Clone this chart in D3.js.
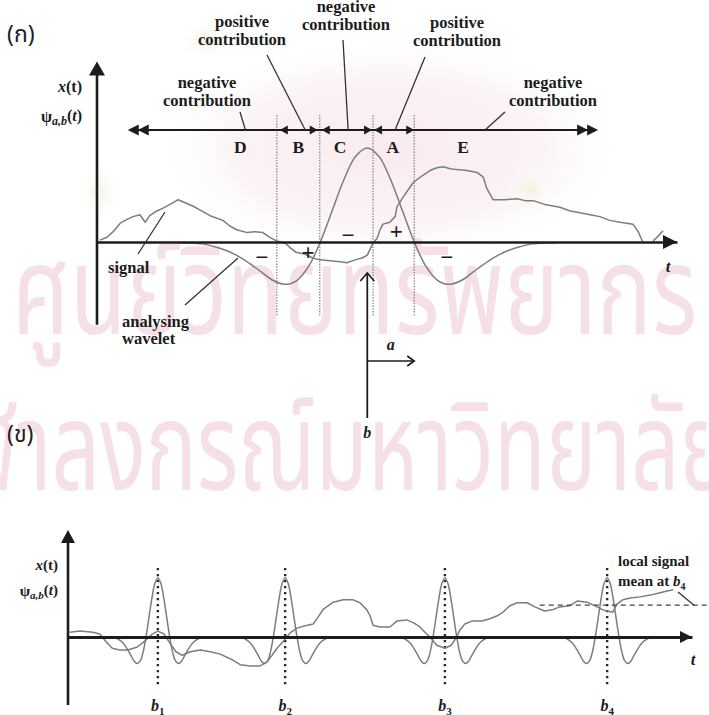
<!DOCTYPE html>
<html>
<head>
<meta charset="utf-8">
<script src="https://cdn.jsdelivr.net/npm/d3@7/dist/d3.min.js"></script>
<style>
  html, body { margin: 0; padding: 0; background: #fff; }
  svg { display: block; }
  .serif { font-family: "Liberation Serif", "Times New Roman", "DejaVu Serif", serif; font-weight: bold; fill: #1c1c1c; }
  .thai  { font-family: "Noto Sans Thai", "Noto Serif Thai", "Loma", "Garuda", "Waree", sans-serif; }
</style>
</head>
<body>
<svg id="fig" width="709" height="715"></svg>
<script>
// ---------------- Panel (ก): signal against one analysing wavelet ----------------
const sigTopT = [0.05,0.17,0.28,0.40,0.52,0.62,0.74,0.83,0.91,1.03,1.14,1.26,1.40,1.55,1.66,1.78,1.95,2.17,2.29,2.41,2.59,2.72,2.86,2.98,3.10,3.24,3.33,3.43,3.59,3.72,3.84,4.02,4.19,4.31,4.45,4.57,4.66,4.76,4.83,4.88,4.93,5.05,5.14,5.17,5.28,5.36,5.45,5.53,5.62,5.74,5.86,5.97,6.09,6.21,6.38,6.55,6.66,6.72,6.83,7.03,7.24,7.38,7.52,7.72,7.98,8.16,8.33,8.50,8.67,8.84,9.02,9.24,9.33,9.41];
const sigTopV = [0.02,0.05,0.11,0.20,0.24,0.27,0.29,0.21,0.28,0.33,0.36,0.40,0.45,0.41,0.38,0.34,0.28,0.23,0.17,0.13,0.10,0.11,0.10,0.05,0.01,-0.01,-0.06,-0.11,-0.13,-0.17,-0.19,-0.20,-0.21,-0.22,-0.19,-0.17,-0.14,-0.01,0.04,0.13,0.19,0.21,0.27,0.37,0.48,0.55,0.63,0.67,0.71,0.76,0.79,0.80,0.78,0.77,0.76,0.74,0.69,0.57,0.45,0.45,0.46,0.44,0.44,0.40,0.37,0.33,0.31,0.29,0.27,0.23,0.21,0.19,0.11,0.00];
const sigTailT = [9.59, 9.67, 9.76];
const sigTailV = [0.01, 0.06, 0.12];

// Mexican-hat profile: offsets (in units of the dilation a) and amplitudes
const hatU = [-4,-3.75,-3.5,-3.25,-3,-2.75,-2.5,-2.25,-2,-1.75,-1.5,-1.25,-1,-0.75,-0.5,-0.25,0,0.25,0.5,0.75,1,1.25,1.5,1.75,2,2.25,2.5,2.75,3,3.25,3.5,3.75,4];
const hatV = [-0.01,-0.01,-0.02,-0.05,-0.09,-0.15,-0.23,-0.32,-0.41,-0.45,-0.41,-0.26,0,0.33,0.66,0.91,1,0.91,0.66,0.33,0,-0.26,-0.41,-0.45,-0.41,-0.32,-0.23,-0.15,-0.09,-0.05,-0.02,-0.01,-0.01];

const waveCentreTop = 4.66;     // b
const waveDilationTop = 0.81;   // a
const zoneEdgesT = [3.10, 3.84, 4.76, 5.47];
const zoneNames = ["D", "B", "C", "A", "E"];
const zoneLabelT = [2.47, 3.47, 4.19, 5.10, 6.31];
const zoneLineStartT = 0.53, zoneLineEndT = 8.64;
const signText = ["\u2212", "+", "\u2212", "+", "\u2212"];
const signT = [2.84, 3.64, 4.33, 5.16, 6.03];
const signV = [-0.17, -0.11, 0.07, 0.11, -0.17];

const contribText = [
  ["negative", "contribution"],
  ["positive", "contribution"],
  ["negative", "contribution"],
  ["positive", "contribution"],
  ["negative", "contribution"]
];

// ---------------- Panel (ข): one wavelet slid along the signal ----------------
const sigBotT = [0.03,0.19,0.40,0.51,0.61,0.71,0.83,0.96,1.11,1.23,1.35,1.44,1.54,1.63,1.73,1.83,1.96,2.12,2.28,2.44,2.64,2.76,2.92,3.08,3.19,3.27,3.35,3.45,3.56,3.67,3.80,3.93,4.01,4.09,4.25,4.41,4.57,4.68,4.79,4.84,4.89,5.00,5.16,5.27,5.43,5.54,5.64,5.72,5.80,5.91,6.04,6.14,6.22,6.28,6.36,6.47,6.63,6.76,6.88,6.97,7.08,7.20,7.36,7.48,7.64,7.76,7.88,8.04,8.16,8.32,8.48,8.57,8.73,8.80,8.89,9.01,9.17,9.33,9.49,9.60,9.70];
const sigBotV = [0.08,0.10,0.08,0.05,-0.08,-0.19,-0.22,-0.22,-0.17,-0.07,0.05,0.10,0.05,-0.10,-0.25,-0.31,-0.25,-0.22,-0.25,-0.29,-0.39,-0.47,-0.49,-0.49,-0.42,-0.31,-0.19,-0.07,0.07,0.15,0.19,0.22,0.34,0.47,0.59,0.63,0.63,0.58,0.46,0.36,0.20,0.17,0.17,0.27,0.29,0.24,0.17,0.08,0.00,-0.14,-0.19,-0.14,-0.02,0.12,0.22,0.27,0.27,0.31,0.36,0.42,0.53,0.58,0.58,0.51,0.44,0.46,0.51,0.53,0.61,0.59,0.51,0.46,0.42,0.56,0.63,0.66,0.68,0.71,0.75,0.78,0.80];
const bCentres = [1.44, 3.48, 6.04, 8.64];
const bIndex = ["1", "2", "3", "4"];
const waveDilationBot = 0.19;
const localMeanV = 0.54;
const localMeanStartT = 7.56;

// ---------------- layout ----------------
const svg = d3.select("#fig");
const ink = "#1c1c1c", trace = "#7d7d7d";

const xTop = d3.scaleLinear().domain([0, 10]).range([97, 677]);
const yTop = d3.scaleLinear().domain([-1, 1]).range([336, 148]);
const xBot = d3.scaleLinear().domain([0, 10]).range([68, 692]);
const yBot = d3.scaleLinear().domain([-1, 1]).range([696, 578]);

// ---- faint library stamp behind the figure ----
const defs = svg.append("defs");
const grad = defs.append("radialGradient").attr("id", "stamp");
grad.append("stop").attr("offset", "0%").attr("stop-color", "#f8e8ec").attr("stop-opacity", 0.9);
grad.append("stop").attr("offset", "65%").attr("stop-color", "#faeef1").attr("stop-opacity", 0.7);
grad.append("stop").attr("offset", "100%").attr("stop-color", "#ffffff").attr("stop-opacity", 0);
const gradB = defs.append("radialGradient").attr("id", "stampBeige");
gradB.append("stop").attr("offset", "0%").attr("stop-color", "#f6f0de").attr("stop-opacity", 0.9);
gradB.append("stop").attr("offset", "100%").attr("stop-color", "#ffffff").attr("stop-opacity", 0);
svg.append("ellipse").attr("cx", 390).attr("cy", 150).attr("rx", 240).attr("ry", 115).attr("fill", "url(#stamp)");
svg.append("ellipse").attr("cx", 100).attr("cy", 192).attr("rx", 22).attr("ry", 30).attr("fill", "url(#stampBeige)");
svg.append("ellipse").attr("cx", 530).attr("cy", 190).attr("rx", 24).attr("ry", 32).attr("fill", "url(#stampBeige)");
svg.append("ellipse").attr("cx", 205).attr("cy", 40).attr("rx", 30).attr("ry", 22).attr("fill", "url(#stampBeige)");

const wm = svg.append("g").attr("class", "thai").attr("fill", "#f6e0e7");
wm.append("text").attr("x", 12).attr("y", 334).attr("font-size", 124)
  .attr("textLength", 685).attr("lengthAdjust", "spacingAndGlyphs")
  .text("ศูนย์วิทยทรัพยากร");
wm.append("text").attr("x", -85).attr("y", 490).attr("font-size", 124)
  .attr("textLength", 815).attr("lengthAdjust", "spacingAndGlyphs")
  .text("จุฬาลงกรณ์มหาวิทยาลัย");

// ---- helpers ----
const triRight = (x, y, len, half) => `M${x},${y}L${x - len},${y - half}L${x - len},${y + half}Z`;
const triLeft  = (x, y, len, half) => `M${x},${y}L${x + len},${y - half}L${x + len},${y + half}Z`;
const triUp    = (x, y, len, half) => `M${x},${y}L${x - half},${y + len}L${x + half},${y + len}Z`;

function addText(g, x, y, anchor, size, parts) {
  const t = g.append("text").attr("class", "serif").attr("x", x).attr("y", y)
    .attr("text-anchor", anchor).attr("font-size", size);
  parts.forEach(p => {
    const s = t.append("tspan").text(p.text);
    if (p.italic) s.attr("font-style", "italic");
    if (p.size) s.attr("font-size", p.size);
    if (p.dy) s.attr("dy", p.dy);
  });
  return t;
}

function panelLabel(x, y, ch) {
  svg.append("text").attr("x", x).attr("y", y)
    .attr("font-family", "'Noto Sans Thai','Loma','Garuda','DejaVu Sans',sans-serif")
    .attr("font-size", 23).attr("fill", "#222").text(ch);
}

// ================= Panel (ก) =================
const gTop = svg.append("g");
panelLabel(7, 42, "(ก)");

const lineTop = d3.line().x(d => xTop(d[0])).y(d => yTop(d[1]));

// dotted zone boundaries
gTop.selectAll("line.zone").data(zoneEdgesT).join("line")
  .attr("x1", d => xTop(d)).attr("x2", d => xTop(d))
  .attr("y1", yTop(1.35)).attr("y2", yTop(-0.78))
  .attr("stroke", "#8d8d8d").attr("stroke-width", 1.4).attr("stroke-dasharray", "1.4 1.4");

// signal
gTop.append("path").datum(d3.zip(sigTopT, sigTopV))
  .attr("d", lineTop).attr("fill", "none").attr("stroke", trace).attr("stroke-width", 1.5).attr("stroke-linejoin", "round");
gTop.append("path").datum(d3.zip(sigTailT, sigTailV))
  .attr("d", lineTop).attr("fill", "none").attr("stroke", trace).attr("stroke-width", 1.5);

// analysing wavelet
const waveTop = hatU.map((u, i) => [waveCentreTop + waveDilationTop * u, hatV[i]]);
gTop.append("path").datum(waveTop)
  .attr("d", lineTop.curve(d3.curveCatmullRom)).attr("fill", "none")
  .attr("stroke", trace).attr("stroke-width", 1.5);
lineTop.curve(d3.curveLinear);

// axes
const axTopX = d3.axisBottom(xTop).tickValues([]).tickSizeOuter(0);
gTop.append("g").attr("transform", `translate(0,${yTop(0)})`).call(axTopX)
  .select(".domain").attr("stroke", ink).attr("stroke-width", 2.6);
gTop.append("path").attr("d", triRight(xTop(10), yTop(0), 14, 7)).attr("fill", ink);
gTop.append("line").attr("x1", xTop(0)).attr("x2", xTop(0))
  .attr("y1", yTop(-0.88)).attr("y2", yTop(1.78))
  .attr("stroke", ink).attr("stroke-width", 2.6);
gTop.append("path").attr("d", triUp(xTop(0), yTop(1.92), 14, 8)).attr("fill", ink);

addText(gTop, 668, 272, "middle", 17, [{ text: "t", italic: true }]);
addText(gTop, 82, 92, "end", 16, [{ text: "x", italic: true }, { text: "(t)" }]);
addText(gTop, 82, 122, "end", 16, [
  { text: "\u03c8" }, { text: "a,b", italic: true, size: 12, dy: 3 }, { text: "(", dy: -4 }, { text: "t", italic: true }, { text: ")" }
]);

// zone arrow line
const yZone = 130;
gTop.append("line").attr("x1", xTop(zoneLineStartT) + 4).attr("x2", xTop(zoneLineEndT) - 4)
  .attr("y1", yZone).attr("y2", yZone).attr("stroke", ink).attr("stroke-width", 2.2);
const xs = xTop(zoneLineStartT), xe = xTop(zoneLineEndT);
[xs, xs + 10].forEach(x => gTop.append("path").attr("d", triLeft(x, yZone, 11, 5.5)).attr("fill", ink));
[xe, xe - 10].forEach(x => gTop.append("path").attr("d", triRight(x, yZone, 11, 5.5)).attr("fill", ink));
// small heads at the zone boundaries
const e = zoneEdgesT.map(xTop);
gTop.append("path").attr("d", triLeft(e[0] + 3, yZone, 8, 4.5)).attr("fill", ink);
gTop.append("path").attr("d", triRight(e[1] - 2, yZone, 8, 4.5)).attr("fill", ink);
gTop.append("path").attr("d", triLeft(e[1] + 2, yZone, 8, 4.5)).attr("fill", ink);
gTop.append("path").attr("d", triRight(e[2] - 1, yZone, 8, 4.5)).attr("fill", ink);
gTop.append("path").attr("d", triLeft(e[2] + 1, yZone, 8, 4.5)).attr("fill", ink);
gTop.append("path").attr("d", triRight(e[3], yZone, 8, 4.5)).attr("fill", ink);

zoneNames.forEach((n, i) => addText(gTop, xTop(zoneLabelT[i]), 153, "middle", 17.5, [{ text: n }]));

// contribution call-outs: text centre, first baseline, leader start -> end on zone line
const calloutX = [207, 242, 346, 457, 553];
const calloutY = [88, 27, 12, 28, 88];
const leaderFrom = [[240, 112], [267, 55], [343, 40], [425, 57], [505, 112]];
const leaderToT = [2.56, 3.59, 4.33, 5.14, 6.69];
contribText.forEach((lines, i) => {
  lines.forEach((s, k) => addText(gTop, calloutX[i], calloutY[i] + k * 18, "middle", 16.5, [{ text: s }]));
  gTop.append("line").attr("x1", leaderFrom[i][0]).attr("y1", leaderFrom[i][1])
    .attr("x2", xTop(leaderToT[i])).attr("y2", yZone)
    .attr("stroke", "#333").attr("stroke-width", 1.3);
});

// +/- signs
signText.forEach((s, i) => {
  gTop.append("text").attr("class", "serif").attr("x", xTop(signT[i])).attr("y", yTop(signV[i]))
    .attr("text-anchor", "middle").attr("dominant-baseline", "central").attr("font-size", 23).text(s);
});

// signal / wavelet call-outs
addText(gTop, 108, 273, "start", 16.5, [{ text: "signal" }]);
gTop.append("line").attr("x1", 138).attr("y1", 254).attr("x2", 165).attr("y2", 212).attr("stroke", "#333").attr("stroke-width", 1.3);
addText(gTop, 122, 327, "start", 16.5, [{ text: "analysing" }]);
addText(gTop, 122, 344, "start", 16.5, [{ text: "wavelet" }]);
gTop.append("line").attr("x1", 185).attr("y1", 305).attr("x2", 238).attr("y2", 258).attr("stroke", "#333").attr("stroke-width", 1.3);

// translation b and dilation a markers
const xb = xTop(waveCentreTop), xa = xTop(waveCentreTop + waveDilationTop);
gTop.append("line").attr("x1", xb).attr("x2", xb).attr("y1", 273).attr("y2", 418).attr("stroke", ink).attr("stroke-width", 1.8);
gTop.append("path").attr("d", `M${xb - 7},${281}L${xb},${273}L${xb + 7},${281}`).attr("fill", "none").attr("stroke", ink).attr("stroke-width", 1.6);
gTop.append("line").attr("x1", xb).attr("x2", xa).attr("y1", 361).attr("y2", 361).attr("stroke", ink).attr("stroke-width", 1.6);
gTop.append("path").attr("d", `M${xa - 7},${356}L${xa},${361}L${xa - 7},${366}`).attr("fill", "none").attr("stroke", ink).attr("stroke-width", 1.6);
addText(gTop, (xb + xa) / 2, 350, "middle", 16, [{ text: "a", italic: true }]);
addText(gTop, xb, 438, "middle", 16, [{ text: "b", italic: true }]);

// ================= Panel (ข) =================
const gBot = svg.append("g");
panelLabel(7, 442, "(ข)");
const lineBot = d3.line().x(d => xBot(d[0])).y(d => yBot(d[1]));

// dotted markers at b1..b4
gBot.selectAll("line.bmark").data(bCentres).join("line")
  .attr("x1", d => xBot(d)).attr("x2", d => xBot(d))
  .attr("y1", yBot(1.17)).attr("y2", yBot(-0.81))
  .attr("stroke", "#2a2a2a").attr("stroke-width", 2.4).attr("stroke-dasharray", "2.4 3.6");

// wavelets at each translation
bCentres.forEach(b => {
  gBot.append("path").datum(hatU.map((u, i) => [b + waveDilationBot * u, hatV[i]]))
    .attr("d", lineBot.curve(d3.curveCatmullRom)).attr("fill", "none")
    .attr("stroke", trace).attr("stroke-width", 1.5);
});
lineBot.curve(d3.curveLinear);

// signal
gBot.append("path").datum(d3.zip(sigBotT, sigBotV))
  .attr("d", lineBot).attr("fill", "none").attr("stroke", trace).attr("stroke-width", 1.5).attr("stroke-linejoin", "round");

// local mean
gBot.append("line").attr("x1", xBot(localMeanStartT)).attr("x2", 709)
  .attr("y1", yBot(localMeanV)).attr("y2", yBot(localMeanV))
  .attr("stroke", "#444").attr("stroke-width", 1.3).attr("stroke-dasharray", "5 4");

// axes
const axBotX = d3.axisBottom(xBot).tickValues([]).tickSizeOuter(0);
gBot.append("g").attr("transform", `translate(0,${yBot(0)})`).call(axBotX)
  .select(".domain").attr("stroke", ink).attr("stroke-width", 2.8);
gBot.append("path").attr("d", triRight(xBot(10), yBot(0), 12, 6)).attr("fill", ink);
gBot.append("line").attr("x1", xBot(0)).attr("x2", xBot(0))
  .attr("y1", 705).attr("y2", 540)
  .attr("stroke", ink).attr("stroke-width", 2.6);
gBot.append("path").attr("d", triUp(xBot(0), 530, 13, 7)).attr("fill", ink);

addText(gBot, 693, 665, "middle", 17, [{ text: "t", italic: true }]);
addText(gBot, 58, 570, "end", 15, [{ text: "x", italic: true }, { text: "(t)" }]);
addText(gBot, 58, 596, "end", 15, [
  { text: "\u03c8" }, { text: "a,b", italic: true, size: 11, dy: 3 }, { text: "(", dy: -4 }, { text: "t", italic: true }, { text: ")" }
]);

bCentres.forEach((b, i) => addText(gBot, xBot(b), 711, "middle", 16, [
  { text: "b", italic: true }, { text: bIndex[i], size: 11, dy: 4 }
]));

addText(gBot, 618, 566, "start", 15, [{ text: "local signal" }]);
addText(gBot, 618, 586, "start", 15, [{ text: "mean at " }, { text: "b", italic: true }, { text: "4", size: 10, dy: 4 }]);
gBot.append("line").attr("x1", 678).attr("y1", 592).attr("x2", 694).attr("y2", yBot(localMeanV))
  .attr("stroke", "#333").attr("stroke-width", 1.3);
</script>
</body>
</html>
